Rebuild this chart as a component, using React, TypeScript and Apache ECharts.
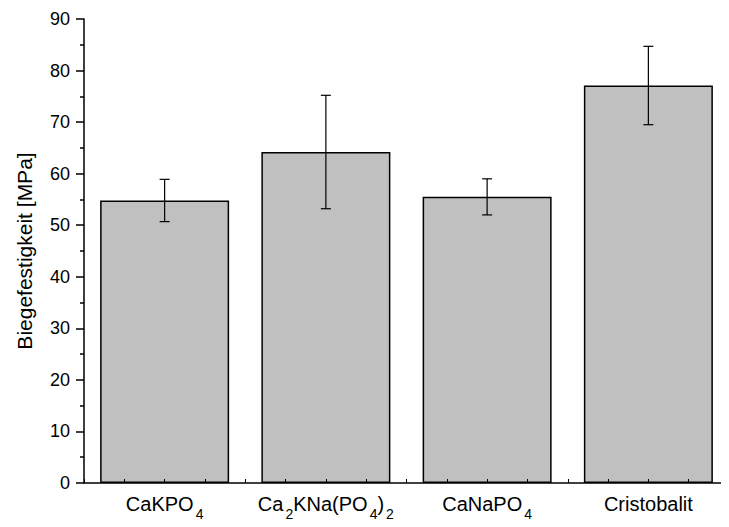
import React, { useEffect, useRef } from "react";
import * as echarts from "echarts";

const categories = ["CaKPO4", "Ca2KNa(PO4)2", "CaNaPO4", "Cristobalit"];
const categoryLabels = [
  "{n|CaKPO}{sub|4}",
  "{n|Ca}{sub|2}{n|KNa(PO}{sub|4}{n|)}{sub|2}",
  "{n|CaNaPO}{sub|4}",
  "{n|Cristobalit}",
];
const means = [54.8, 64.2, 55.5, 77.1];
const errors = [4.1, 11.0, 3.5, 7.6];
const yTicks = { min: 0, max: 90, interval: 10 };

export default function App() {
  const ref = useRef<HTMLDivElement>(null);
  useEffect(() => {
    if (!ref.current) return;
    const chart = echarts.init(ref.current, null, { renderer: "svg" });
    const font = "Liberation Sans, Arial, sans-serif";
    chart.setOption({
      animation: false,
      textStyle: { fontFamily: font },
      grid: { left: 84, right: -6, top: 19, bottom: 44 },
      xAxis: [
        {
          type: "category",
          data: categories,
          axisLine: { show: false },
          axisTick: { show: false },
          axisLabel: {
            interval: 0,
            color: "#000",
            margin: 11,
            fontFamily: font,
            fontSize: 20,
            formatter: (_v: string, i: number) => categoryLabels[i],
            rich: {
              n: { fontSize: 20, fontFamily: font, color: "#000", lineHeight: 24, verticalAlign: "top" },
              sub: { fontSize: 14, fontFamily: font, color: "#000", lineHeight: 16, verticalAlign: "top", padding: [13, 0, 0, 2] },
            },
          },
        },
        {
          type: "value",
          position: "bottom",
          min: 0.5,
          max: 4.5,
          interval: 0.25,
          z: 10,
          axisLine: { show: true, onZero: false, lineStyle: { color: "#000", width: 1.5 } },
          axisTick: { show: true, inside: true, length: 4, lineStyle: { color: "#000", width: 1 } },
          axisLabel: { show: false },
          splitLine: { show: false },
        },
      ],
      yAxis: {
        type: "value",
        min: yTicks.min,
        max: yTicks.max,
        interval: yTicks.interval,
        name: "Biegefestigkeit [MPa]",
        nameLocation: "middle",
        nameGap: 49,
        nameTextStyle: { fontSize: 21, color: "#000", fontFamily: font },
        axisLine: { show: true, lineStyle: { color: "#000", width: 1.5 } },
        axisTick: { show: true, length: 8, lineStyle: { color: "#000", width: 1.5 } },
        minorTick: { show: true, splitNumber: 2, length: 4, lineStyle: { color: "#000", width: 1.5 } },
        axisLabel: { color: "#000", fontSize: 18, margin: 14, fontFamily: font },
        splitLine: { show: false },
        minorSplitLine: { show: false },
      },
      series: [
        {
          type: "bar",
          xAxisIndex: 0,
          data: means,
          barCategoryGap: "20%",
          itemStyle: { color: "#c0c0c0", borderColor: "#000", borderWidth: 1.5 },
        },
        {
          type: "custom",
          xAxisIndex: 0,
          z: 5,
          data: means.map((m, i) => [i, m - errors[i], m + errors[i]]),
          renderItem: (params: any, api: any) => {
            const x = api.value(0);
            const lo = api.coord([x, api.value(1)]);
            const hi = api.coord([x, api.value(2)]);
            const hw = 5;
            const style = { stroke: "#000", lineWidth: 1.2 };
            return {
              type: "group",
              children: [
                { type: "line", shape: { x1: lo[0], y1: lo[1], x2: hi[0], y2: hi[1] }, style },
                { type: "line", shape: { x1: lo[0] - hw, y1: lo[1], x2: lo[0] + hw, y2: lo[1] }, style },
                { type: "line", shape: { x1: hi[0] - hw, y1: hi[1], x2: hi[0] + hw, y2: hi[1] }, style },
              ],
            };
          },
        },
      ],
    });
    return () => chart.dispose();
  }, []);
  return <div ref={ref} style={{ width: 729, height: 527, margin: -8 }} />;
}
